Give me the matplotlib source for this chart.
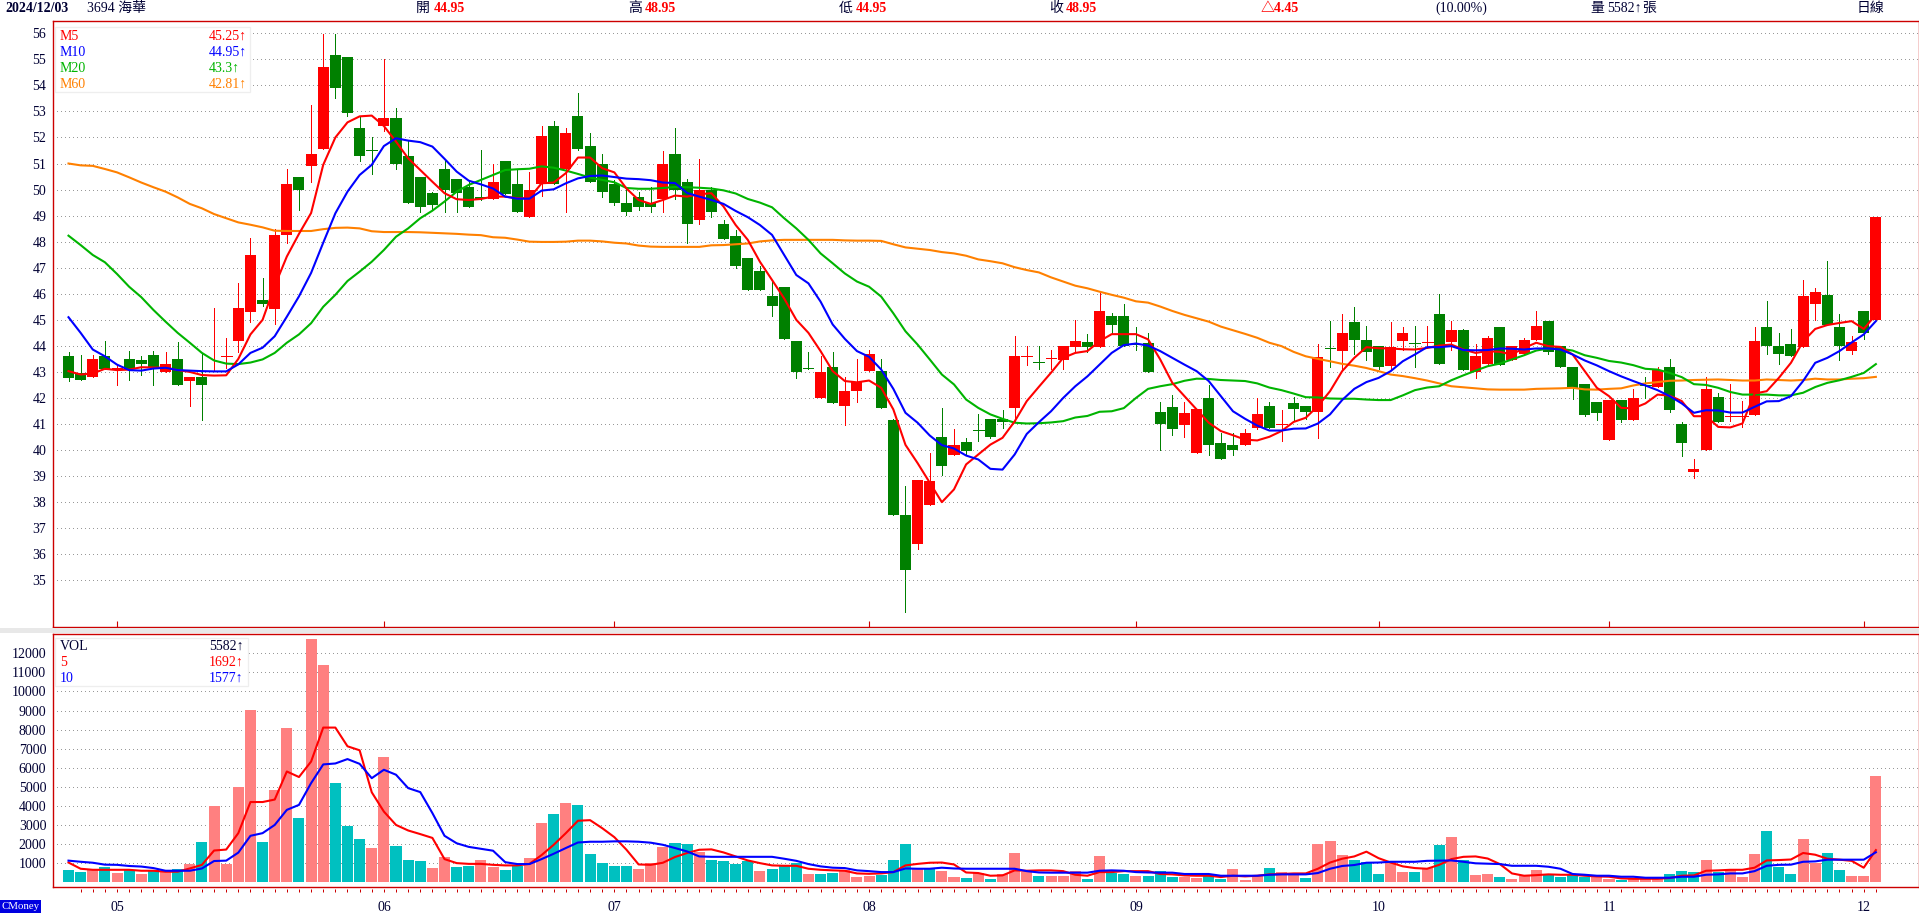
import matplotlib
matplotlib.use('Agg')
import matplotlib.pyplot as plt
from matplotlib.patches import Rectangle

# Daily candles
candle_color = ("GGRGRGGGRG" "RGRRRRGRRG" "RRGGGGRGGG" "GGGGGRGGRR" "GRGGGGGGGR"
                "GGRGGGGGGG" "GGRGRRRGGG" "RRGRGGGGRR" "GRRRGRGGGG" "GGRRGGGRRG"
                "RGGRGRGGGR" "RGRGRGRRGR" "RRGGGGGRGR" "GRGGRRGRRR" "GGGRRGGRGR")
body_top = [43.63, 42.95, 43.5, 43.6, 43.15, 43.5, 43.45, 43.65, 43.3, 43.5,
            42.8, 42.8, 43.05, 43.6, 45.45, 47.49, 45.76, 48.26, 50.2, 50.5,
            51.37, 54.7, 55.17, 55.1, 52.37, 51.5, 52.75, 52.75, 51.3, 50.5,
            49.85, 50.8, 50.4, 50.1, 49.72, 50.3, 51.1, 50.2, 50.0, 52.05,
            52.45, 52.17, 52.83, 51.67, 50.98, 50.2, 49.5, 49.72, 49.5, 50.98,
            51.37, 50.3, 50.0, 50.0, 48.68, 48.22, 47.37, 46.88, 45.92, 46.26,
            44.2, 43.15, 43.0, 43.17, 42.25, 42.6, 43.67, 43.05, 41.15, 37.5,
            38.87, 38.83, 40.52, 40.18, 40.3, 40.77, 41.2, 41.2, 43.63, 43.63,
            43.37, 43.52, 44.0, 44.17, 44.13, 45.32, 45.13, 45.13, 44.07, 44.1,
            41.48, 41.67, 41.44, 41.56, 41.98, 40.29, 40.2, 40.67, 41.37, 41.71,
            41.0, 41.79, 41.71, 43.59, 43.9, 44.51, 44.9, 44.24, 44.0, 43.94,
            44.51, 44.12, 44.16, 45.24, 44.6, 44.6, 43.63, 44.32, 44.74, 44.0,
            44.24, 44.78, 44.97, 43.98, 43.2, 42.52, 41.83, 41.94, 41.94, 41.98,
            42.48, 43.09, 43.17, 41.02, 39.29, 42.33, 42.02, 41.31, 41.31, 44.17,
            44.74, 44.0, 44.09, 45.92, 46.08, 45.95, 44.72, 44.13, 45.32, 48.95]
body_bot = [42.75, 42.7, 42.8, 43.1, 43.15, 43.1, 43.3, 43.15, 43.0, 42.5,
            42.65, 42.5, 43.05, 43.6, 44.2, 45.3, 45.6, 45.42, 48.26, 50.0,
            50.9, 51.55, 53.9, 52.95, 51.3, 51.5, 52.45, 51.0, 49.5, 49.33,
            49.4, 50.0, 49.85, 49.33, 49.62, 49.65, 49.83, 49.15, 48.95, 50.2,
            50.2, 50.8, 51.55, 50.3, 49.9, 49.5, 49.15, 49.33, 49.33, 49.64,
            49.97, 48.68, 48.83, 49.15, 48.1, 47.07, 46.15, 46.15, 45.53, 44.28,
            43.0, 43.1, 41.98, 41.8, 41.7, 42.25, 43.05, 41.63, 37.5, 35.38,
            36.38, 37.9, 39.4, 39.83, 39.98, 40.77, 40.52, 41.06, 41.63, 43.63,
            43.37, 43.52, 43.44, 43.94, 43.94, 43.94, 44.82, 43.98, 44.07, 43.0,
            41.02, 40.8, 40.98, 39.87, 40.2, 39.64, 40.02, 40.18, 40.83, 40.83,
            41.0, 41.56, 41.48, 41.48, 43.9, 43.82, 44.24, 43.75, 43.17, 43.21,
            44.17, 44.12, 44.16, 43.32, 44.13, 43.09, 42.98, 43.32, 43.28, 43.44,
            43.67, 44.24, 43.75, 43.17, 42.4, 41.33, 41.44, 40.37, 41.17, 41.17,
            42.48, 42.44, 41.52, 40.29, 39.14, 40.02, 41.06, 41.31, 41.31, 41.33,
            44.01, 43.67, 43.63, 43.95, 45.61, 44.8, 43.98, 43.82, 44.51, 44.99]
high = [43.78, 43.65, 43.65, 44.2, 43.3, 43.8, 43.6, 43.8, 43.75, 44.15,
        42.8, 43.7, 45.45, 44.3, 46.4, 48.15, 46.6, 48.5, 50.8, 50.5,
        53.25, 55.97, 55.97, 55.1, 52.8, 52.0, 55.0, 53.15, 51.9, 50.5,
        49.9, 51.1, 50.4, 50.3, 51.5, 51.0, 51.1, 50.75, 50.67, 52.45,
        52.63, 52.35, 53.7, 52.17, 51.37, 50.35, 50.1, 49.9, 50.1, 51.48,
        52.37, 50.4, 51.18, 50.1, 48.83, 48.45, 47.37, 47.07, 46.5, 46.26,
        44.2, 43.78, 43.6, 43.75, 42.8, 43.48, 43.86, 43.5, 41.18, 38.64,
        38.87, 39.87, 41.63, 40.8, 40.48, 41.37, 41.2, 41.55, 44.37, 43.98,
        44.0, 43.86, 44.0, 45.0, 44.44, 46.05, 45.28, 45.6, 44.74, 44.5,
        41.83, 42.1, 41.83, 41.56, 42.48, 40.64, 40.67, 40.79, 41.98, 41.83,
        41.52, 42.02, 41.71, 44.09, 44.94, 45.24, 45.51, 44.78, 44.0, 44.9,
        44.74, 44.78, 44.78, 46.0, 44.94, 44.63, 44.09, 44.36, 44.74, 44.0,
        44.32, 45.32, 44.97, 43.98, 43.2, 42.52, 41.83, 41.94, 41.94, 42.36,
        42.82, 43.2, 43.5, 41.06, 39.64, 42.79, 42.21, 42.52, 41.87, 44.74,
        45.74, 44.48, 44.63, 46.53, 46.22, 47.26, 45.22, 44.36, 45.32, 48.95]
low = [42.67, 42.7, 42.8, 43.1, 42.5, 42.7, 42.9, 42.5, 43.0, 42.5,
       41.7, 41.15, 43.05, 43.15, 43.75, 44.9, 45.53, 44.85, 47.95, 49.2,
       50.3, 51.55, 53.5, 52.83, 51.1, 50.6, 52.25, 50.8, 49.5, 49.15,
       49.2, 49.15, 49.15, 49.33, 49.6, 49.65, 49.83, 49.15, 48.95, 49.75,
       50.2, 49.15, 51.5, 50.3, 49.72, 49.4, 49.03, 49.2, 49.15, 49.15,
       49.65, 47.95, 48.68, 48.95, 48.1, 47.0, 46.15, 46.15, 45.15, 44.28,
       42.78, 43.1, 41.98, 41.8, 40.98, 41.83, 43.05, 41.63, 37.5, 33.77,
       36.22, 37.9, 39.06, 39.8, 39.83, 40.33, 40.48, 40.83, 41.1, 43.28,
       43.13, 43.1, 43.13, 43.78, 43.78, 43.94, 44.5, 43.98, 43.86, 43.0,
       40.02, 40.56, 40.52, 39.87, 39.8, 39.64, 39.83, 40.18, 40.79, 40.83,
       40.33, 41.1, 41.21, 40.45, 43.17, 43.13, 43.67, 43.44, 43.13, 43.1,
       43.86, 43.17, 43.9, 43.32, 43.86, 43.09, 42.78, 43.32, 43.28, 43.44,
       43.67, 44.24, 43.67, 43.17, 41.95, 41.29, 41.17, 40.37, 41.06, 41.17,
       41.98, 42.44, 41.48, 39.79, 38.91, 40.02, 41.06, 41.13, 40.87, 41.33,
       43.67, 43.32, 43.63, 43.95, 45.01, 44.8, 43.44, 43.67, 44.28, 44.99]

m5 = [43.03, 42.9, 42.94, 43.12, 43.07, 43.09, 43.18, 43.17, 43.16, 43.07,
      43.0, 42.88, 42.86, 42.87, 43.5, 44.44, 45.0, 46.3, 47.43, 48.3,
      49.1, 50.95, 52.0, 52.58, 52.81, 52.84, 52.44, 51.84, 51.2, 50.75,
      50.3, 49.86, 49.63, 49.6, 49.64, 49.73, 49.73, 49.67, 49.67, 50.24,
      50.27, 50.63, 51.23, 51.23, 50.82, 50.66, 50.04, 49.6, 49.45, 49.6,
      49.77, 49.73, 49.82, 49.86, 49.35, 48.64, 48.07, 47.23, 46.53, 45.82,
      45.0, 44.5, 43.8, 43.03, 42.65, 42.6, 42.67, 42.39, 41.56, 40.2,
      39.5, 38.75, 38.0, 38.49, 39.45, 39.83, 40.21, 40.47, 41.1, 41.88,
      42.43, 42.97, 43.54, 43.73, 43.8, 44.18, 44.45, 44.45, 44.45, 44.25,
      43.48, 42.58, 42.07, 41.56, 41.05, 40.73, 40.57, 40.4, 40.37, 40.51,
      40.73, 41.08, 41.24, 41.69, 42.26, 43.03, 43.54, 43.95, 43.91, 43.9,
      43.87, 43.86, 43.92, 44.01, 44.05, 43.86, 43.73, 43.8, 43.77, 43.67,
      43.92, 44.12, 43.99, 43.96, 43.67, 43.03, 42.39, 42.07, 41.62, 41.6,
      41.79, 42.13, 42.09, 41.88, 41.3, 41.3, 40.89, 40.87, 41.02, 42.17,
      42.26, 42.77, 43.35, 44.17, 44.65, 44.8, 44.88, 44.95, 44.65, 45.2]
m10 = [45.1, 44.5, 43.86, 43.6, 43.28, 43.07, 43.05, 43.13, 43.16, 43.07,
       43.05, 43.03, 43.02, 43.02, 43.29, 43.73, 43.93, 44.37, 45.12, 45.9,
       46.8, 47.96, 49.09, 49.92, 50.56, 50.95, 51.67, 51.97, 51.88, 51.82,
       51.65, 51.18, 50.69, 50.34, 50.2, 50.04, 49.73, 49.65, 49.65, 49.96,
       50.01, 50.24, 50.43, 50.52, 50.54, 50.48, 50.42, 50.4, 50.36, 50.27,
       50.25, 49.87, 49.73, 49.6, 49.45, 49.18, 48.94, 48.64, 48.26, 47.49,
       46.72, 46.4, 45.7, 44.82, 44.27, 43.8, 43.58, 43.09, 42.35, 41.43,
       41.05, 40.56, 40.19, 40.06, 39.79, 39.64, 39.28, 39.25, 39.83, 40.62,
       41.07, 41.49, 42.0, 42.45, 42.83, 43.28, 43.73, 44.03, 44.09, 44.01,
       43.8, 43.54, 43.28, 43.03, 42.65, 42.07, 41.49, 41.2, 40.94, 40.75,
       40.75, 40.82, 40.83, 41.02, 41.37, 41.92, 42.35, 42.61, 42.77, 43.03,
       43.41, 43.67, 43.95, 43.95, 43.99, 43.84, 43.83, 43.84, 43.9, 43.89,
       43.86, 43.9, 43.9, 43.86, 43.67, 43.44, 43.25, 43.03, 42.83, 42.65,
       42.48, 42.3, 42.07, 41.79, 41.43, 41.53, 41.52, 41.44, 41.44, 41.66,
       41.87, 41.88, 42.07, 42.65, 43.35, 43.54, 43.8, 44.13, 44.44, 44.95]
m20 = [48.23, 47.87, 47.49, 47.21, 46.76, 46.27, 45.87, 45.38, 44.93, 44.5,
       44.12, 43.73, 43.44, 43.32, 43.3, 43.36, 43.48, 43.73, 44.12, 44.44,
       44.87, 45.5, 45.96, 46.49, 46.85, 47.23, 47.68, 48.19, 48.51, 48.9,
       49.19, 49.54, 49.92, 50.18, 50.37, 50.56, 50.75, 50.78, 50.8, 50.89,
       50.84, 50.73, 50.6, 50.46, 50.37, 50.28, 50.06, 50.03, 50.03, 50.06,
       50.1, 50.09, 50.07, 50.04, 49.97, 49.85, 49.64, 49.5, 49.32, 48.9,
       48.51, 48.07, 47.55, 47.17, 46.78, 46.47, 46.27, 45.89, 45.25, 44.56,
       44.05, 43.48, 42.9, 42.52, 41.94, 41.62, 41.37, 41.2, 41.05, 41.02,
       41.03, 41.06, 41.11, 41.25, 41.31, 41.47, 41.49, 41.61, 42.0, 42.35,
       42.45, 42.53, 42.66, 42.74, 42.73, 42.69, 42.67, 42.65, 42.56, 42.4,
       42.3, 42.17, 42.03, 42.02, 41.98, 41.97, 41.97, 41.94, 41.92, 41.92,
       42.1, 42.3, 42.4, 42.45, 42.68, 42.87, 43.05, 43.22, 43.32, 43.48,
       43.64, 43.82, 43.9, 43.89, 43.82, 43.64, 43.54, 43.42, 43.36, 43.26,
       43.12, 43.09, 42.96, 42.8, 42.53, 42.5, 42.39, 42.23, 42.13, 42.13,
       42.13, 42.1, 42.1, 42.2, 42.42, 42.58, 42.68, 42.81, 42.96, 43.3]
m60 = [51.0, 50.93, 50.91, 50.79, 50.66, 50.47, 50.27, 50.09, 49.92, 49.7,
       49.45, 49.28, 49.06, 48.9, 48.74, 48.65, 48.55, 48.42, 48.41, 48.41,
       48.41, 48.48, 48.53, 48.54, 48.51, 48.4, 48.37, 48.37, 48.37, 48.36,
       48.34, 48.32, 48.3, 48.27, 48.25, 48.17, 48.15, 48.08, 48.0, 47.99,
       47.99, 48.0, 48.04, 48.04, 48.01, 47.96, 47.93, 47.85, 47.81, 47.8,
       47.8, 47.8, 47.8, 47.86, 47.87, 47.9, 47.93, 48.01, 48.05, 48.07,
       48.07, 48.07, 48.07, 48.07, 48.05, 48.04, 48.04, 48.03, 47.9, 47.78,
       47.73, 47.68, 47.6, 47.55, 47.46, 47.32, 47.25, 47.17, 47.02, 46.91,
       46.82, 46.63, 46.47, 46.31, 46.21, 46.08, 45.96, 45.85, 45.71, 45.66,
       45.51, 45.34, 45.19, 45.06, 44.93, 44.74, 44.6, 44.46, 44.31, 44.12,
       43.99, 43.77, 43.6, 43.5, 43.41, 43.31, 43.24, 43.15, 43.03, 42.9,
       42.84, 42.76, 42.67, 42.56, 42.45, 42.41, 42.37, 42.33, 42.32, 42.32,
       42.32, 42.35, 42.36, 42.37, 42.39, 42.33, 42.32, 42.35, 42.37, 42.48,
       42.56, 42.61, 42.66, 42.67, 42.69, 42.7, 42.71, 42.69, 42.67, 42.67,
       42.71, 42.69, 42.67, 42.69, 42.74, 42.71, 42.71, 42.74, 42.76, 42.81]

# Volume
vol_color = ("TTPTPTPTPT" "PTPPPPTPPT" "PPTTTPPTTT" "PPTTPPTTPP" "TPTTTTTPPP"
             "TTPTTTTPTT" "TPTTPPPTTT" "PTPPTPTPPP" "TPPPTPTTPT" "TTPPTTPPPT"
             "PPTPPPTTTP" "PTPTPTPPTP" "PPTTTTPPTP" "PPTTTPTPPP" "TTTPPTTPPP")
volume = [663, 559, 660, 820, 506, 660, 454, 660, 559, 716,
          978, 2130, 4016, 978, 5010, 9044, 2130, 4854, 8100, 3387,
          12763, 11401, 5220, 2968, 2287, 1816, 6582, 1920, 1187, 1135,
          768, 1344, 820, 873, 1187, 820, 663, 873, 1292, 3125,
          3597, 4173, 4068, 1502, 1030, 873, 873, 716, 1030, 1868,
          2078, 2025, 1606, 1187, 1135, 978, 1135, 611, 716, 873,
          1030, 454, 454, 506, 663, 297, 349, 402, 1187, 2025,
          768, 768, 611, 297, 244, 506, 192, 454, 1554, 559,
          349, 349, 349, 611, 192, 1397, 506, 454, 349, 349,
          611, 297, 297, 244, 402, 192, 716, 140, 402, 768,
          559, 454, 244, 2025, 2183, 1449, 1187, 1082, 454, 1082,
          559, 559, 768, 1973, 2392, 1187, 402, 454, 297, 192,
          349, 663, 402, 297, 454, 297, 297, 192, 140, 244,
          244, 192, 454, 611, 559, 1187, 559, 663, 297, 1502,
          2706, 820, 454, 2287, 1030, 1554, 663, 349, 349, 5582]
vol_m5 = [1040, 715, 660, 660, 660, 660, 610, 610, 560, 560,
          730, 920, 1670, 1720, 2580, 4210, 4210, 4340, 5810, 5520,
          6330, 8110, 8110, 7130, 6920, 4720, 3710, 3010, 2720, 2530,
          2330, 1220, 1010, 970, 970, 920, 890, 890, 970, 1430,
          1970, 2580, 3230, 3260, 2840, 2370, 1710, 940, 920, 1030,
          1330, 1540, 1710, 1730, 1570, 1360, 1150, 1010, 890, 870,
          870, 715, 660, 630, 610, 470, 450, 470, 540, 890,
          970, 1030, 1040, 940, 520, 490, 349, 366, 630, 610,
          630, 630, 590, 400, 349, 540, 540, 590, 590, 590,
          440, 420, 366, 349, 349, 280, 349, 314, 349, 420,
          440, 470, 470, 715, 1040, 1240, 1360, 1610, 1270, 1040,
          840, 750, 715, 920, 1220, 1340, 1360, 1250, 960, 470,
          349, 380, 420, 400, 400, 349, 314, 297, 210, 190,
          190, 190, 230, 349, 366, 610, 630, 660, 660, 770,
          1150, 1170, 1200, 1540, 1450, 1240, 1190, 1130, 770, 1692]
vol_m10 = [1140, 1080, 1030, 930, 920, 860, 830, 750, 610, 610,
           610, 730, 1120, 1140, 1560, 2440, 2580, 3010, 3800, 4060,
           5200, 6180, 6230, 6460, 6210, 5460, 5900, 5640, 4940, 4730,
           3630, 2440, 2050, 1860, 1760, 1660, 1060, 960, 960, 1220,
           1500, 1800, 2090, 2130, 2130, 2150, 2150, 2130, 2080, 1970,
           1800, 1620, 1360, 1340, 1340, 1340, 1340, 1340, 1340, 1240,
           1130, 960, 840, 770, 750, 630, 590, 540, 540, 730,
           715, 715, 770, 730, 715, 715, 715, 715, 715, 590,
           520, 510, 510, 510, 510, 610, 630, 610, 540, 520,
           510, 510, 440, 440, 440, 349, 349, 349, 349, 400,
           420, 420, 420, 490, 715, 860, 910, 1030, 1040, 1080,
           1080, 1080, 1130, 1140, 1150, 1080, 1000, 980, 960, 870,
           870, 870, 820, 715, 440, 400, 349, 349, 297, 297,
           244, 244, 244, 297, 297, 400, 420, 470, 470, 590,
           870, 920, 930, 1080, 1100, 1190, 1190, 1190, 1190, 1577]

month_labels = ['05', '06', '07', '08', '09', '10', '11', '12']
month_idx = [4, 26, 45, 66, 88, 108, 127, 148]

W, H = 1919, 922
RED, GREEN, BLUE = '#ff0000', '#008000', '#0000ff'
LINE_GREEN, ORANGE = '#00b400', '#ff8000'
FRAME = '#cc0000'
NAVY = '#000033'
FONT = ['Liberation Serif', 'Noto Sans CJK TC', 'DejaVu Sans']
plt.rcParams['font.family'] = FONT


def px_box(x0, y0, x1, y1):
    return [x0 / W, 1 - y1 / H, (x1 - x0) / W, (y1 - y0) / H]


def label(x, y, s, color=NAVY, size=9.6, weight='normal', ha='left'):
    fig.text(x / W, 1 - y / H, s, color=color, fontsize=size, fontweight=weight,
             ha=ha, va='center')


fig = plt.figure(figsize=(W / 100, H / 100), dpi=100, facecolor='white')
fig.patches.append(Rectangle((0, 1 - 633.3 / H), 1, 5.6 / H, transform=fig.transFigure,
                             facecolor='#e8e8e8', edgecolor='none'))
ax1 = fig.add_axes(px_box(52.5, 20.5, 1918.5, 626.7))
ax2 = fig.add_axes(px_box(52.5, 634.3, 1918.5, 887))

xs = list(range(len(high)))
xlim = ((52.5 - 68.5) / 12.13, (1918.5 - 68.5) / 12.13)

for ax in (ax1, ax2):
    ax.set_xlim(xlim)
    ax.set_axisbelow(True)
    ax.yaxis.grid(True, color='#999999', linewidth=0.72, linestyle=(0, (1, 3.2)),
                  antialiased=False)
    for s in ax.spines.values():
        s.set_color(FRAME)
        s.set_linewidth(1.0)
    ax.tick_params(axis='y', length=0, pad=4.5, labelsize=10, labelcolor=NAVY)

# Price panel
ax1.set_ylim(33.22, 56.49)
ax1.set_yticks(range(35, 57))
ax1.set_xticks(month_idx)
ax1.set_xticklabels([])
ax1.tick_params(axis='x', direction='in', length=4.5, width=0.8, color=FRAME)

for i in xs:
    c = RED if candle_color[i] == 'R' else GREEN
    ax1.vlines(i, low[i], high[i], color=c, linewidth=0.72, antialiased=False, zorder=2)
    if body_top[i] - body_bot[i] < 0.01:
        ax1.hlines(body_top[i], i - 0.45, i + 0.45, color=c, linewidth=0.72,
                   antialiased=False, zorder=2)
    else:
        ax1.bar(i, body_top[i] - body_bot[i], bottom=body_bot[i], width=0.91,
                color=c, linewidth=0, zorder=2)

ax1.plot(xs, m60, color=ORANGE, linewidth=1.5, zorder=3)
ax1.plot(xs, m20, color=LINE_GREEN, linewidth=1.5, zorder=4)
ax1.plot(xs, m5, color=RED, linewidth=1.5, zorder=5)
ax1.plot(xs, m10, color=BLUE, linewidth=1.5, zorder=6)

# Volume panel
ax2.set_ylim(-241, 12996)
ax2.set_yticks(range(1000, 13000, 1000))
ax2.set_xticks(month_idx)
ax2.set_xticklabels(month_labels, fontsize=10, color=NAVY)
ax2.tick_params(axis='x', length=0, pad=10)
bar_colors = ['#ff8080' if v == 'P' else '#00c0c0' for v in vol_color]
ax2.bar(xs, volume, width=0.91, color=bar_colors, linewidth=0, zorder=2)
ax2.plot(xs, vol_m5, color=RED, linewidth=1.5, zorder=3)
ax2.plot(xs, vol_m10, color=BLUE, linewidth=1.5, zorder=4)
ax2.vlines(xs[1:], -0.021, -0.008, color=FRAME, linewidth=0.72, clip_on=False,
           transform=ax2.get_xaxis_transform())

# Legend boxes
for ax, box in ((ax1, (55, 27, 250, 92)), (ax2, (55, 637.7, 248, 686.3))):
    ax.add_patch(Rectangle((box[0] / W, 1 - box[3] / H), (box[2] - box[0]) / W,
                           (box[3] - box[1]) / H, transform=fig.transFigure,
                           facecolor='white', edgecolor='#eeeeee', linewidth=0.9, zorder=8))

legend_rows = [('M5', '45.25↑', RED, 36), ('M10', '44.95↑', BLUE, 52),
               ('M20', '43.3↑', LINE_GREEN, 68), ('M60', '42.81↑', ORANGE, 84),
               ('VOL', '5582↑', NAVY, 646), ('5', '1692↑', RED, 662), ('10', '1577↑', BLUE, 678)]
for name, val, c, y in legend_rows:
    label(60, y, name, color=c, size=10)
    label(209, y, val, color=c, size=10)

# Header line
label(5, 8.5, '2024/12/03', weight='bold', size=10)
label(87, 8.5, '3694 海華', size=10)
for x, s in ((416, '開'), (628, '高'), (839, '低'), (1049, '收')):
    label(x, 8.5, s, size=10)
for x, s in ((434, '44.95'), (645, '48.95'), (856, '44.95'), (1066, '48.95'), (1261, '△4.45')):
    label(x, 8.5, s, color=RED, weight='bold', size=10)
label(1435, 8.5, '(10.00%)', size=10)
label(1590, 8.5, '量', size=10)
label(1607, 8.5, '5582↑', size=10)
label(1642, 8.5, '張', size=10)
label(1857, 8.5, '日線', size=10)

# CMoney tag
fig.patches.append(Rectangle((0, 1 - 912.7 / H), 41 / W, 12.7 / H, transform=fig.transFigure,
                             facecolor='#0000e0', edgecolor='none'))
label(1, 906.5, 'CMoney', color='white', size=7.8)

fig.savefig('out.png', dpi=100)
